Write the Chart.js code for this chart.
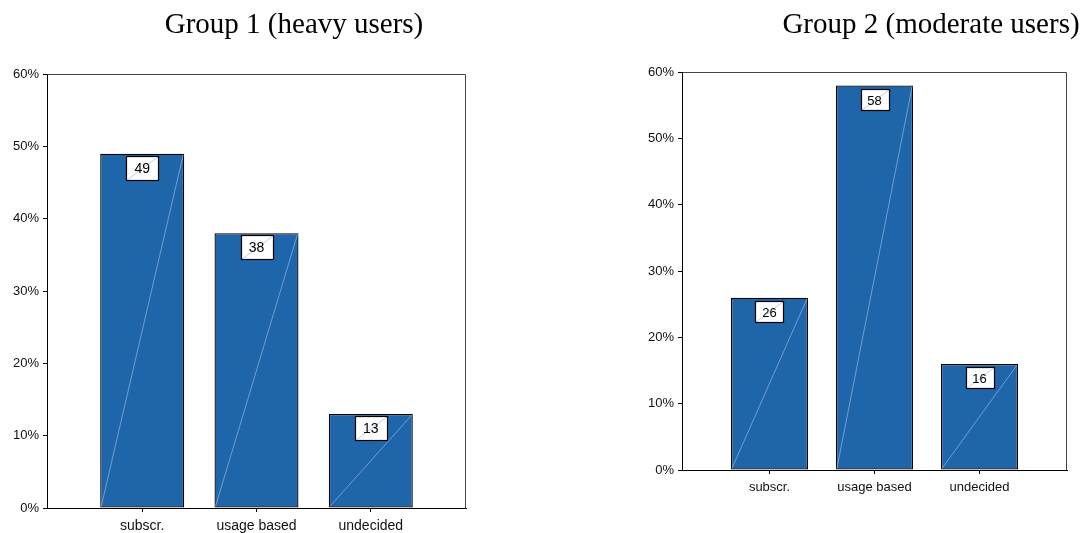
<!DOCTYPE html>
<html>
<head>
<meta charset="utf-8">
<title>Pricing preference by user group</title>
<script src="https://cdn.jsdelivr.net/npm/chart.js@4/dist/chart.umd.min.js"></script>
<style>
  html, body { margin: 0; padding: 0; background: #fff; }
  body { position: relative; width: 1086px; height: 533px; overflow: hidden; }
  canvas { position: absolute; top: 0; }
  #g1 { left: 0; }
  #g2 { left: 600px; }
</style>
</head>
<body>
<canvas id="g1" width="588" height="533"></canvas>
<canvas id="g2" width="662" height="533"></canvas>
<script>
// Share of respondents preferring each pricing model, in percent
const categories = ['subscr.', 'usage based', 'undecided'];
const heavyUsers = [49, 38, 13];
const moderateUsers = [26, 58, 16];
const percentTicks = [0, 10, 20, 30, 40, 50, 60];
const panelTitles = ['Group 1 (heavy users)', 'Group 2 (moderate users)'];

const SANS = '"Liberation Sans", Arial, Helvetica, sans-serif';
const SERIF = '"Liberation Serif", "Times New Roman", Times, serif';
const BAR_BLUE = '#1f65a9';
const STREAK = 'rgba(150,185,225,0.85)';

// Top and right edges of the plotting area (left/bottom come from the axes)
const frame = {
  id: 'frame',
  beforeDatasetsDraw(chart) {
    const a = chart.chartArea, ctx = chart.ctx;
    const l = Math.round(a.left) + 0.5, t = Math.round(a.top) + 0.5;
    const r = Math.round(a.right) - 0.5, b = Math.round(a.bottom);
    ctx.save();
    ctx.strokeStyle = '#444';
    ctx.lineWidth = 1;
    ctx.beginPath();
    ctx.moveTo(l, t);
    ctx.lineTo(r, t);
    ctx.lineTo(r, b);
    ctx.stroke();
    ctx.restore();
  }
};

// Corner-to-corner streak on each bar plus a boxed value label near its top
const barLabels = {
  id: 'barLabels',
  afterDatasetsDraw(chart, args, opts) {
    const ctx = chart.ctx;
    const meta = chart.getDatasetMeta(0);
    const values = chart.data.datasets[0].data;
    ctx.save();
    meta.data.forEach((bar, i) => {
      const p = bar.getProps(['x', 'y', 'base', 'width'], true);
      const l = p.x - p.width / 2, r = p.x + p.width / 2;
      ctx.strokeStyle = STREAK;
      ctx.lineWidth = 0.8;
      ctx.beginPath();
      ctx.moveTo(l + 1, p.base - 1);
      ctx.lineTo(r - 1, p.y + 1);
      ctx.stroke();

      const text = String(values[i].y);
      ctx.font = opts.fontSize + 'px ' + SANS;
      const w = Math.round(ctx.measureText(text).width + opts.padX * 2);
      const h = opts.boxH;
      const bx = Math.round(p.x - w / 2) + 0.5;
      const by = Math.round(p.y + opts.gap) + 0.5;
      ctx.fillStyle = '#fff';
      ctx.fillRect(bx, by, w, h);
      ctx.strokeStyle = STREAK;
      ctx.lineWidth = 0.8;
      ctx.beginPath();
      ctx.moveTo(bx, by + h);
      ctx.lineTo(bx + w, by);
      ctx.stroke();
      ctx.strokeStyle = '#000';
      ctx.lineWidth = 1.2;
      ctx.strokeRect(bx, by, w, h);
      ctx.fillStyle = '#000';
      ctx.textAlign = 'center';
      ctx.textBaseline = 'middle';
      ctx.fillText(text, p.x, by + h / 2 + 1);
    });
    ctx.restore();
  }
};

function makePanel(id, title, values, s) {
  return new Chart(document.getElementById(id), {
    type: 'bar',
    data: {
      datasets: [{
        data: values.map((v, i) => ({ x: i + 1, y: v })),
        backgroundColor: BAR_BLUE,
        borderColor: '#000',
        borderWidth: 1.3,
        borderSkipped: false,
        barPercentage: 0.735,
        categoryPercentage: 1
      }]
    },
    options: {
      responsive: false,
      animation: false,
      events: [],
      layout: { padding: { bottom: s.bottomPad } },
      plugins: {
        legend: { display: false },
        tooltip: { enabled: false },
        title: {
          display: true,
          text: title,
          color: '#000',
          font: { family: SERIF, size: s.titleSize, weight: 'normal' },
          padding: { top: s.titleTop, bottom: s.titleBottom }
        },
        barLabels: { fontSize: s.labelSize, padX: s.labelPadX, boxH: s.boxH, gap: s.boxGap }
      },
      scales: {
        x: {
          type: 'linear',
          offset: false,
          min: 1 - 0.833,
          max: categories.length + 0.833,
          afterBuildTicks: axis => { axis.ticks = categories.map((c, i) => ({ value: i + 1 })); },
          afterFit: axis => { axis.height = s.xAxisHeight; },
          grid: { display: true, offset: false, drawOnChartArea: false, drawTicks: true, tickLength: 4, color: '#000' },
          border: { display: true, color: '#000', width: 1 },
          ticks: {
            autoSkip: false, maxRotation: 0, padding: s.xPad, color: '#111',
            font: { family: SANS, size: s.xSize },
            callback: v => categories[Math.round(v) - 1]
          }
        },
        y: {
          type: 'linear',
          position: 'left',
          min: 0,
          max: 60,
          afterBuildTicks: axis => { axis.ticks = percentTicks.map(v => ({ value: v })); },
          afterFit: axis => { axis.width = s.yAxisWidth; },
          grid: { display: true, drawOnChartArea: false, drawTicks: true, tickLength: 4, color: '#000' },
          border: { display: true, color: '#000', width: 1 },
          ticks: {
            padding: 4, color: '#111',
            font: { family: SANS, size: s.ySize },
            callback: v => v + '%'
          }
        },
        gap: {
          type: 'linear',
          position: 'right',
          display: true,
          grid: { display: false },
          border: { display: false },
          ticks: { display: false },
          afterFit: axis => { axis.width = s.rightGap; }
        }
      }
    },
    plugins: [frame, barLabels]
  });
}

makePanel('g1', panelTitles[0], heavyUsers, {
  titleSize: 29, titleTop: 8, titleBottom: 31.5,
  yAxisWidth: 47, rightGap: 122, bottomPad: 0, xAxisHeight: 25,
  xSize: 14, ySize: 13, xPad: 6,
  labelSize: 14, labelPadX: 8, boxH: 24, boxGap: 2
});

makePanel('g2', panelTitles[1], moderateUsers, {
  titleSize: 29, titleTop: 8, titleBottom: 29.5,
  yAxisWidth: 82, rightGap: 195, bottomPad: 36, xAxisHeight: 27,
  xSize: 13, ySize: 13, xPad: 6,
  labelSize: 13, labelPadX: 7, boxH: 21, boxGap: 3
});
</script>
</body>
</html>
